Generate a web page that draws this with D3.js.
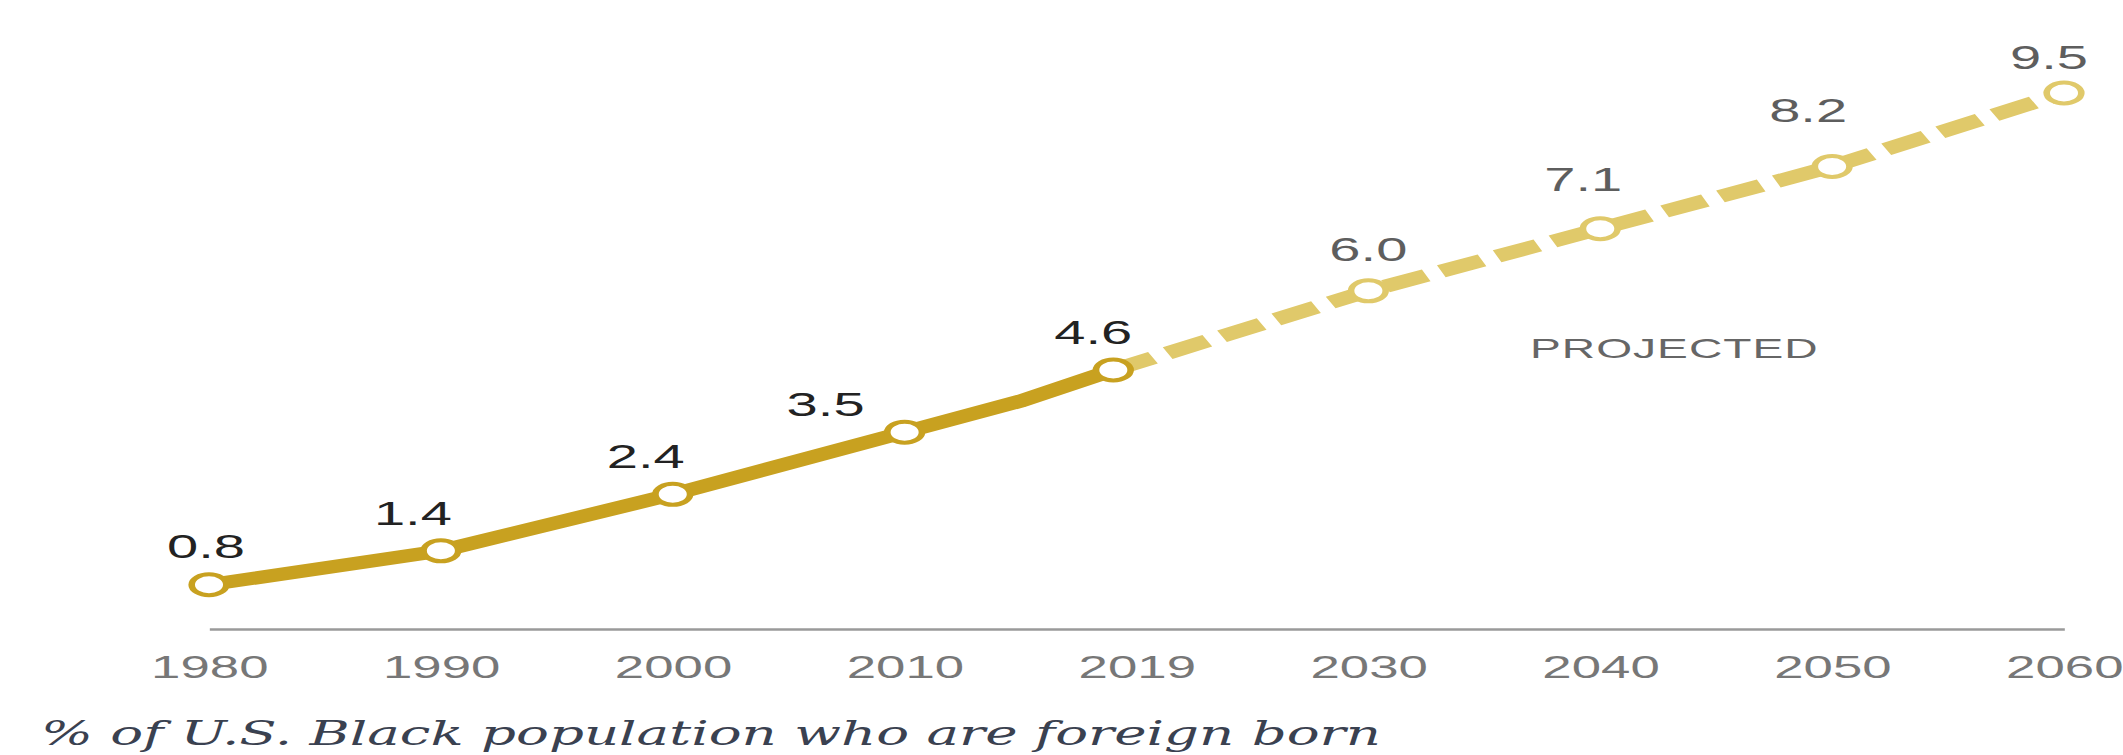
<!DOCTYPE html>
<html>
<head>
<meta charset="utf-8">
<script src="https://cdn.jsdelivr.net/npm/d3@7"></script>
<style>
  body { margin: 0; background: #fff; }
  svg { display: block; }
</style>
</head>
<body>
<svg id="chart"></svg>
<script>
// data
const years = [1980, 1990, 2000, 2010, 2015, 2019];
const values = [0.8, 1.4, 2.4, 3.5, 4.05, 4.6];
const projYears = [2019, 2030, 2040, 2050, 2060];
const projValues = [4.6, 6.0, 7.1, 8.2, 9.5];
const tickLabels = ["1980", "1990", "2000", "2010", "2019", "2030", "2040", "2050", "2060"];
const labelled = [1980, 1990, 2000, 2010, 2019, 2030, 2040, 2050, 2060];

// the reference is stretched sideways, so draw narrow and let the viewBox stretch it
const SX = 1.65;
const fullW = 2123, fullH = 755;
const W = fullW / SX;

// where each value label sits relative to its point (full px)
const labelOffset = [[-3, -27], [-28, -26], [-27, -26], [-79, -16], [-20, -26],
                     [0, -30], [-17, -38], [-24, -44], [-15, -24]];

const svg = d3.select("#chart")
  .attr("width", fullW)
  .attr("height", fullH)
  .attr("viewBox", `0 0 ${W} ${fullH}`)
  .attr("preserveAspectRatio", "none");

const x0 = 209 / SX, x1 = 2064 / SX;

const x = d3.scaleLinear()
  .domain([1980, 2060])
  .range([x0, x1]);

const xTick = d3.scalePoint()
  .domain(tickLabels)
  .range([x0, x1]);

const y = d3.scaleLinear()
  .domain([0, 9.5])
  .range([630, 93]);

// axis
const axis = svg.append("g")
  .attr("transform", "translate(0,629)")
  .call(d3.axisBottom(xTick).tickSize(0).tickSizeOuter(0).tickPadding(0));
axis.select(".domain").attr("stroke", "#9a9a9a").attr("stroke-width", 2.5);
axis.selectAll("text")
  .attr("dy", null)
  .attr("y", 49)
  .attr("fill", "#777")
  .attr("font-family", "Liberation Sans, Arial, sans-serif")
  .attr("font-size", 32);

const hist = years.map((yr, i) => ({year: yr, value: values[i]}));
const proj = projYears.map((yr, i) => ({year: yr, value: projValues[i]}));

const line = d3.line()
  .x(d => x(d.year))
  .y(d => y(d.value));

svg.append("path")
  .datum(proj)
  .attr("d", line)
  .attr("fill", "none")
  .attr("stroke", "#e0c96a")
  .attr("stroke-width", 13)
  .attr("stroke-dasharray", "27,10");

svg.append("path")
  .datum(hist)
  .attr("d", line)
  .attr("fill", "none")
  .attr("stroke", "#c8a120")
  .attr("stroke-width", 13)
  .attr("stroke-linejoin", "round");

// markers and labels
const pts = labelled.map(yr => {
  const hi = years.indexOf(yr);
  if (hi >= 0) return {year: yr, value: values[hi], projected: false};
  return {year: yr, value: projValues[projYears.indexOf(yr)], projected: true};
});

svg.selectAll("circle.pt")
  .data(pts)
  .join("circle")
  .attr("class", "pt")
  .attr("cx", d => x(d.year))
  .attr("cy", d => y(d.value))
  .attr("r", 10.5)
  .attr("fill", "#fff")
  .attr("stroke", d => d.projected ? "#e0c96a" : "#c8a120")
  .attr("stroke-width", 4);

svg.selectAll("text.val")
  .data(pts)
  .join("text")
  .attr("class", "val")
  .attr("x", (d, i) => x(d.year) + labelOffset[i][0] / SX)
  .attr("y", (d, i) => y(d.value) + labelOffset[i][1])
  .attr("text-anchor", "middle")
  .attr("font-family", "Liberation Sans, Arial, sans-serif")
  .attr("font-size", 34)
  .attr("fill", d => d.projected ? "#5e5e5e" : "#222")
  .text(d => d.value.toFixed(1));

svg.append("text")
  .attr("x", 1530 / SX)
  .attr("y", 358)
  .attr("font-family", "Liberation Sans, Arial, sans-serif")
  .attr("font-size", 28)
  .attr("letter-spacing", 0.6)
  .attr("fill", "#666")
  .text("PROJECTED");

svg.append("text")
  .attr("x", 41 / SX)
  .attr("y", 745)
  .attr("font-family", "DejaVu Serif, Georgia, serif")
  .attr("font-style", "italic")
  .attr("font-size", 34)
  .attr("fill", "#3a4150")
  .attr("textLength", 1340 / SX)
  .attr("lengthAdjust", "spacingAndGlyphs")
  .text("% of U.S. Black population who are foreign born");
</script>
</body>
</html>
